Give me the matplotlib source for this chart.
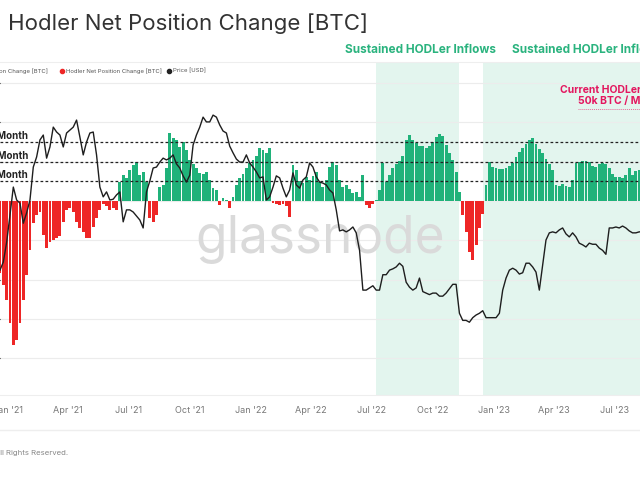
import matplotlib
matplotlib.use("Agg")
import numpy as np
import pandas as pd
import matplotlib.pyplot as plt
import matplotlib.dates as mdates
from matplotlib.lines import Line2D

plt.rcParams['font.family'] = ['Inter', 'DejaVu Sans']

# one value every 5 days, starting 2020-12-20
START = "2020-12-20"

# hodler net position change, thousand BTC
hodler_change = [
    -183, -213, -251, -310, -366, -353, -310, -251, -188, -124,
    -56, -36, -28, -86, -119, -104, -99, -94, -89, -53,
    -23, -18, -28, -53, -69, -79, -94, -94, -66, -43,
    -23, -8, -13, -23, -18, -23, 48, 66, 58, 79,
    91, 99, 66, 74, 48, -43, -53, -36, 36, 41,
    84, 173, 160, 155, 137, 150, 130, 104, 94, 84,
    71, 69, 74, 53, 33, 28, -10, 8, 3, -18,
    10, 41, 58, 69, 84, 97, 104, 114, 135, 130,
    122, 135, -5, -8, -10, -8, -13, -41, 91, 79,
    51, 46, 61, 53, 64, 74, 48, 36, 53, 86,
    99, 91, 53, 36, 41, 30, 20, 23, 10, 66,
    -10, -18, -8, 2, 28, 97, 48, 66, 84, 94,
    102, 114, 155, 168, 155, 147, 140, 140, 135, 140,
    150, 163, 170, 165, 142, 122, 104, 74, 23, -36,
    -79, -130, -150, -112, -69, -33, 41, 99, 86, 84,
    81, 81, 84, 89, 97, 112, 124, 135, 145, 155,
    160, 145, 132, 122, 107, 94, 79, 41, 38, 43,
    38, 36, 53, 97, 99, 102, 102, 99, 89, 86,
    94, 97, 94, 84, 69, 61, 61, 58, 66, 84,
    66, 76, 79, 71,
]

# BTC price, thousand USD
price_k = [
    22.6, 23.9, 27.4, 33.0, 40.0, 36.6, 35.8, 31.2, 33.5, 36.6,
    45.9, 49.2, 55.3, 57.2, 48.8, 52.7, 60.4, 58.4, 57.2, 52.7,
    58.0, 59.2, 60.4, 63.4, 56.4, 49.9, 54.5, 58.0, 58.4, 49.9,
    40.0, 37.4, 38.7, 36.6, 36.8, 37.9, 38.7, 31.5, 34.2, 34.2,
    33.7, 32.8, 31.9, 30.2, 38.7, 41.7, 45.6, 45.9, 47.5, 48.8,
    48.2, 48.8, 49.9, 46.9, 45.6, 43.2, 41.4, 43.4, 53.4, 57.2,
    60.4, 64.7, 62.6, 62.6, 65.6, 64.7, 61.3, 58.8, 58.0, 53.0,
    50.6, 48.5, 47.5, 47.5, 49.9, 47.2, 45.9, 44.4, 42.6, 42.9,
    36.6, 37.4, 40.0, 43.2, 42.6, 39.7, 37.4, 39.2, 44.1, 40.6,
    39.7, 42.0, 42.9, 47.2, 45.9, 42.9, 41.4, 41.1, 40.6, 39.2,
    38.4, 34.2, 29.6, 29.8, 29.4, 29.8, 30.4, 29.2, 25.9, 19.7,
    19.7, 20.0, 20.3, 19.7, 19.7, 21.9, 21.9, 22.6, 22.8, 23.1,
    23.7, 23.2, 20.8, 20.1, 19.7, 20.0, 21.4, 19.5, 19.3, 19.1,
    19.3, 19.3, 18.9, 18.9, 19.3, 19.9, 20.5, 20.5, 16.8, 16.0,
    16.0, 15.8, 16.3, 16.6, 16.8, 17.1, 16.3, 16.3, 16.3, 16.3,
    16.8, 19.7, 21.4, 22.6, 22.9, 22.6, 22.0, 22.2, 23.7, 23.7,
    23.1, 22.3, 19.7, 23.4, 27.8, 29.2, 29.4, 29.2, 29.8, 30.2,
    29.0, 28.4, 29.2, 28.4, 27.2, 26.9, 26.5, 27.2, 27.0, 27.0,
    26.3, 25.9, 25.2, 30.2, 30.2, 30.4, 30.2, 30.6, 30.2, 29.6,
    29.2, 29.2, 29.4, 29.4,
]

inflow_windows = [("2022-07-07", "2022-11-09"), ("2022-12-15", "2023-09-30")]
monthly_levels = [50, 100, 150]
monthly_labels = ["+50k BTC / Month", "+100k BTC / Month", "+150k BTC / Month"]

dates = pd.date_range(START, periods=len(hodler_change), freq="5D")
vals = np.array(hodler_change, dtype=float)
price = np.array(price_k) * 1000

GREEN = "#20b27a"
RED = "#ee2626"
SHADE = "#e3f5ee"

W, H = 640, 480


def fx(px):
    return px / W


def fy(py):
    return 1 - py / H


fig = plt.figure(figsize=(6.4, 4.8), dpi=100)
ax = fig.add_axes([0, fy(395), 1, (395 - 62) / H])

jan21 = mdates.date2num(pd.Timestamp("2021-01-01"))
ax.set_xlim(jan21 - 12.0, jan21 + 949.2)
ax.set_ylim(-493, 353)

for a, b in inflow_windows:
    ax.axvspan(pd.Timestamp(a), pd.Timestamp(b), color=SHADE, lw=0, zorder=0)

colors = [GREEN if v >= 0 else RED for v in vals]
ax.bar(dates, vals, width=4.3, color=colors, linewidth=0, zorder=2)

for lvl, lab in zip(monthly_levels, monthly_labels):
    ax.axhline(lvl, color="#222222", lw=0.9, ls=(0, (2.2, 1.8)), zorder=4)
    ax.text(28 / W, lvl + 2, lab, transform=ax.get_yaxis_transform(),
            ha="right", va="bottom", fontsize=7, fontweight="bold",
            color="#222222", zorder=6)

ax.set_yticks(np.arange(-400, 301, 100))
ax.grid(axis="y", color="#ececec", lw=0.8)
ax.set_axisbelow(True)
ax.tick_params(axis="y", left=False, labelleft=False)
ax.xaxis.set_major_locator(mdates.MonthLocator(bymonth=[1, 4, 7, 10]))
ax.xaxis.set_major_formatter(mdates.DateFormatter("%b '%y"))
ax.tick_params(axis="x", length=0, pad=8, labelsize=6.5, labelcolor="#777777")
for s in ["left", "right"]:
    ax.spines[s].set_visible(False)
for s in ["top", "bottom"]:
    ax.spines[s].set_color("#eeeeee")

ax.text(0.5, (395 - 240) / (395 - 62), "glassnode", transform=ax.transAxes,
        ha="center", va="center", fontsize=37, color="#dadada", zorder=1)

ax2 = ax.twinx()
ax2.set_yscale("log")
ax2.plot(dates, price, color="#1e1e1e", lw=1.0, zorder=5)
ax2.set_ylim(9580, 94500)
ax2.yaxis.set_minor_locator(matplotlib.ticker.NullLocator())
ax2.tick_params(axis="y", which="both", right=False, labelright=False)
for s in ax2.spines.values():
    s.set_visible(False)

# title, legend, annotations
fig.text(fx(8), fy(24), "Hodler Net Position Change [BTC]", fontsize=16,
         color="#333333", va="center")

LEG = dict(va="center", fontsize=4.3, color="#555555")
fig.text(fx(48), fy(71), "Hodler Net Position Change [BTC]", ha="right", **LEG)
fig.add_artist(Line2D([fx(62)], [fy(71)], marker="o", ms=3.0, color=RED, lw=0))
fig.text(fx(66), fy(71), "Hodler Net Position Change [BTC]", **LEG)
fig.add_artist(Line2D([fx(169)], [fy(71)], marker="o", ms=3.0, color="#222222", lw=0))
fig.text(fx(173), fy(71), "Price [USD]", **LEG)

fig.text(fx(345), fy(50), "Sustained HODLer Inflows", fontsize=8.5,
         fontweight="bold", color="#2ab37e", va="center")
fig.text(fx(512), fy(50), "Sustained HODLer Inflows", fontsize=8.5,
         fontweight="bold", color="#2ab37e", va="center")

fig.text(fx(560), fy(90), "Current HODLer Inflows", fontsize=7.5,
         fontweight="bold", color="#e3175f", va="center")
fig.text(fx(578), fy(101), "50k BTC / Month", fontsize=7.5,
         fontweight="bold", color="#e3175f", va="center")
fig.add_artist(Line2D([fx(578), 1], [fy(109)] * 2, color="#e3175f", lw=0.7,
                      ls=(0, (1, 1)), alpha=0.6))

fig.add_artist(Line2D([0, 1], [fy(430)] * 2, color="#eeeeee", lw=1))
fig.text(fx(68), fy(453), "© 2023 Glassnode. All Rights Reserved.", ha="right",
         va="center", fontsize=5.6, color="#888888")

fig.savefig("out.png", dpi=100, facecolor="white")
